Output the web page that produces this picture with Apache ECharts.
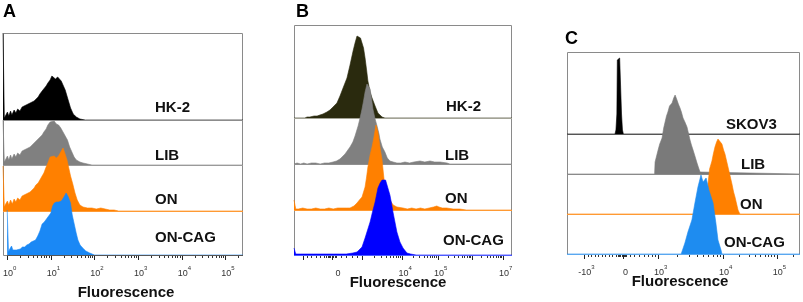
<!DOCTYPE html>
<html>
<head>
<meta charset="utf-8">
<script src="https://cdn.jsdelivr.net/npm/echarts@6.0.0/dist/echarts.min.js"></script>
<style>
html, body { margin: 0; padding: 0; background: #fff; }
#chart { width: 803px; height: 302px; }
</style>
</head>
<body>
<div id="chart"></div>
<script>
// ---- panel A (x in log10 units, y = relative counts) ----
const aHK2 = [[0,87],[0.025,87],[0.03,2],[0.06,4],[0.1,8],[0.13,4],[0.17,9],[0.2,5],[0.25,10],[0.29,7],[0.33,11],[0.38,9],[0.43,13],[0.47,11],[0.52,15],[0.56,13],[0.61,17],[0.65,16],[0.7,19],[0.74,20],[0.79,23],[0.83,26],[0.88,29],[0.92,31],[0.97,34],[1.01,37],[1.06,40],[1.1,44],[1.14,43],[1.18,41],[1.23,43],[1.27,41],[1.31,39],[1.35,37],[1.4,30],[1.46,21],[1.52,12],[1.58,6],[1.65,3],[1.73,1],[1.85,0],[5.4,0]];
const aLIB = [[0,45],[0.025,45],[0.03,3],[0.06,5],[0.1,9],[0.13,5],[0.17,10],[0.2,6],[0.25,11],[0.29,8],[0.33,12],[0.38,10],[0.43,14],[0.47,12],[0.52,16],[0.56,15],[0.61,18],[0.65,20],[0.7,22],[0.74,24],[0.79,26],[0.83,28],[0.88,30],[0.92,33],[0.97,36],[1.01,40],[1.06,43],[1.1,45],[1.15,44],[1.2,41],[1.25,40],[1.3,37],[1.35,33],[1.4,29],[1.45,25],[1.5,18],[1.55,13],[1.6,8],[1.65,5],[1.73,3],[1.8,2],[1.9,1],[2.0,0],[5.4,0]];
const aON = [[0,45],[0.025,45],[0.03,4],[0.06,7],[0.1,10],[0.13,6],[0.17,11],[0.21,7],[0.25,12],[0.29,9],[0.33,13],[0.38,11],[0.43,15],[0.47,14],[0.52,17],[0.56,16],[0.61,19],[0.65,21],[0.7,23],[0.74,26],[0.79,28],[0.83,31],[0.88,35],[0.92,38],[0.97,44],[1.01,48],[1.06,54],[1.1,56],[1.15,55],[1.2,53],[1.25,55],[1.3,59],[1.35,63],[1.39,58],[1.44,51],[1.48,43],[1.52,35],[1.57,27],[1.62,18],[1.67,11],[1.73,6],[1.8,4],[1.9,3],[2.0,3],[2.1,2],[2.2,3],[2.3,2],[2.4,1],[2.5,1],[2.6,0],[5.4,0]];
const aONCAG = [[0,45],[0.025,45],[0.03,3],[0.06,6],[0.1,9],[0.13,5],[0.17,7],[0.21,5],[0.25,7],[0.3,6],[0.35,8],[0.4,8],[0.45,10],[0.5,11],[0.55,13],[0.6,14],[0.65,15],[0.7,19],[0.75,24],[0.8,31],[0.85,33],[0.9,36],[0.95,39],[1.0,42],[1.04,49],[1.08,52],[1.13,53],[1.18,53],[1.24,54],[1.3,58],[1.35,62],[1.4,58],[1.45,52],[1.49,40],[1.53,32],[1.58,22],[1.62,15],[1.67,10],[1.73,7],[1.8,4],[1.89,2],[2.0,0],[5.4,0]];
const aTicks = [0, 1, 2, 3, 4, 5];
const aTickLabels = ['10^0', '10^1', '10^2', '10^3', '10^4', '10^5'];

// ---- panel B (x in display channels 0-1000) ----
const bHK2 = [[0,0],[50,0],[60,1],[73,1],[92,2],[106,2],[119,3],[133,4],[151,6],[165,8],[179,11],[197,15],[211,22],[225,30],[234,35],[243,40],[257,53],[271,67],[280,75],[289,82],[298,83],[305,80],[312,78],[319,70],[326,60],[333,48],[339,37],[349,26],[358,20],[372,12],[385,5],[394,3],[404,1],[417,0],[1000,0]];
const bLIB = [[0,0],[14,1],[30,0],[45,1],[60,0],[80,1],[100,1],[120,0],[140,1],[160,1],[179,2],[195,3],[211,5],[234,10],[257,17],[270,22],[280,28],[294,38],[303,46],[312,55],[319,63],[326,72],[335,80],[342,78],[349,75],[356,65],[362,55],[372,45],[381,38],[390,30],[394,25],[405,17],[417,12],[428,6],[440,3],[455,2],[472,1],[490,1],[509,2],[530,1],[550,2],[578,3],[600,2],[624,3],[645,2],[670,2],[702,1],[715,0],[1000,0]];
const bON = [[0,10],[4,10],[8,1],[20,1],[40,2],[60,1],[80,1],[100,2],[120,1],[140,1],[160,2],[180,1],[200,2],[220,2],[240,2],[257,2],[275,4],[289,7],[300,10],[312,13],[326,23],[333,33],[339,43],[349,55],[358,63],[367,73],[376,85],[380,82],[385,78],[395,62],[404,50],[410,37],[417,23],[428,15],[440,10],[455,5],[472,3],[500,2],[520,1],[540,2],[560,1],[580,2],[600,1],[620,2],[640,3],[655,4],[665,3],[680,2],[700,2],[730,1],[760,1],[790,0],[1000,0]];
const bONCAG = [[0,7],[4,7],[8,1],[30,1],[60,1],[90,1],[120,1],[150,1],[180,1],[210,1],[240,1],[270,2],[289,3],[312,8],[326,17],[349,33],[360,43],[372,53],[385,67],[395,72],[404,75],[413,77],[420,75],[427,73],[440,60],[447,52],[454,43],[463,33],[472,23],[486,13],[500,7],[518,2],[535,1],[560,0],[1000,0]];
const bTicks = [41, 176, 312, 498, 661, 817, 959];
const bLabelVals = [190, 498, 661, 959];
const bTickLabels = ['0', '10^4', '10^5', '10^7'];

// ---- panel C (x in display channels 0-1000) ----
const cSKOV3 = [[0,0],[206,0],[210,4],[214,20],[216,74],[219,76],[226,76],[230,74],[234,20],[238,4],[242,0],[1000,0]];
const cLIB = [[0,0],[376,0],[378,12],[391,24],[398,30],[408,36],[415,46],[421,52],[427,58],[433,62],[440,68],[451,71],[458,76],[464,79],[468,77],[472,74],[478,70],[485,66],[491,62],[498,56],[506,52],[515,47],[522,40],[528,34],[534,29],[541,24],[549,18],[558,11],[565,6],[571,2],[576,0],[1000,0]];
const cON = [[0,0],[598,0],[601,4],[605,30],[612,45],[622,53],[628,60],[635,67],[642,72],[648,75],[656,73],[665,70],[672,64],[678,60],[685,53],[691,47],[700,38],[708,30],[715,22],[721,17],[727,11],[734,4],[742,0],[1000,0]];
const cONCAG = [[0,0],[490,0],[494,2],[506,11],[519,22],[536,34],[549,51],[562,67],[575,79],[584,72],[590,74],[597,76],[609,64],[627,51],[639,31],[648,14],[661,4],[665,0],[1000,0]];
const cTicks = [73, 240, 391, 670, 901];
const cTickLabels = ['-10^3', '0', '10^3', '10^4', '10^5'];

const FONT = 'Liberation Sans, Arial, sans-serif';

// minor tick helpers
function logMinors(start, width, limit) {
    const out = [];
    for (let k = 2; k <= 9; k++) {
        const v = start + Math.log10(k) * width;
        if (v <= limit) out.push(v);
    }
    return out;
}
let aMinor = [];
aTicks.forEach(d => { aMinor = aMinor.concat(logMinors(d, 1, 5.4)); });
const bMinor = [60, 80, 100, 120, 140, 150, 156, 162, 168, 182, 188, 196, 215, 240, 265, 290]
    .concat(logMinors(312, 186, 1000), logMinors(498, 163, 1000), logMinors(661, 156, 1000), logMinors(817, 142, 1000));
const cMinor = [90, 105, 120, 135, 150, 165, 180, 195, 210, 220, 225, 230, 235, 245, 250, 255, 270, 290, 310, 330, 350, 365, 378]
    .concat(logMinors(391, 279, 1000), logMinors(670, 231, 1000), logMinors(901, 231, 1000));

function richLabel(s) {
    const parts = s.split('^');
    return parts.length > 1 ? '{b|' + parts[0] + '}{e|' + parts[1] + '}' : '{b|' + s + '}';
}

const panels = [
    {
        left: 3, right: 243, xMin: 0, xMax: 5.4,
        strips: [[33, 120], [120, 165], [165, 211], [211, 255]],
        series: [
            { name: 'HK-2', data: aHK2, color: '#000000', line: '#8c8c8c' },
            { name: 'LIB', data: aLIB, color: '#808080', line: '#9a9a9a' },
            { name: 'ON', data: aON, color: '#ff8000', line: '#ff9a33' },
            { name: 'ON-CAG', data: aONCAG, color: '#1a88f5', line: '#555555' }
        ],
        ticks: aTicks, minor: aMinor, labelVals: aTicks, labels: aTickLabels,
        letter: ['A', 3, 12], title: [126, 293],
        names: [[155, 108], [155, 156], [155, 200], [155, 238]]
    },
    {
        left: 294, right: 512, xMin: 0, xMax: 1000,
        strips: [[25, 118], [118, 164], [164, 210], [210, 255]],
        series: [
            { name: 'HK-2', data: bHK2, color: '#2a2a0e', line: '#a3a396' },
            { name: 'LIB', data: bLIB, color: '#808080', line: '#8f8f8f' },
            { name: 'ON', data: bON, color: '#ff8000', line: '#ff9a33' },
            { name: 'ON-CAG', data: bONCAG, color: '#0000ff', line: '#4d5cff' }
        ],
        ticks: bTicks, minor: bMinor, labelVals: bLabelVals, labels: bTickLabels,
        letter: ['B', 296, 12], title: [398, 283],
        names: [[446, 107], [445, 156], [445, 199], [443, 241]]
    },
    {
        left: 567, right: 800, xMin: 0, xMax: 1000,
        strips: [[52, 134], [134, 174], [174, 214], [214, 254]],
        series: [
            { name: 'SKOV3', data: cSKOV3, color: '#000000', line: '#555555' },
            { name: 'LIB', data: cLIB, color: '#7a7a7a', line: '#8a8a8a' },
            { name: 'ON', data: cON, color: '#ff8000', line: '#ff9a33' },
            { name: 'ON-CAG', data: cONCAG, color: '#1e8cf0', line: '#5aa8f0' }
        ],
        ticks: cTicks, minor: cMinor, labelVals: cTicks, labels: cTickLabels,
        letter: ['C', 565, 39], title: [680, 282],
        names: [[726, 125], [741, 165], [740, 205], [724, 243]]
    }
];

const grids = [], xAxes = [], yAxes = [], series = [], graphics = [];

panels.forEach(p => {
    p.strips.forEach((s, i) => {
        const top = s[0], base = s[1];
        const gi = grids.length;
        const last = i === p.strips.length - 1;
        grids.push({ left: p.left, top: top, width: p.right - p.left, height: base - top });
        const xi = xAxes.length;
        xAxes.push({
            type: 'value', gridIndex: gi, min: p.xMin, max: p.xMax, position: 'bottom',
            show: last,
            axisLine: { show: false },
            splitLine: { show: false },
            axisTick: { show: true, customValues: p.ticks, length: 5, lineStyle: { color: '#222', width: 1 } },
            axisLabel: {
                show: true, customValues: p.labelVals, margin: 10, padding: [0, 0, 0, 5],
                formatter: v => richLabel(p.labels[p.labelVals.indexOf(v)]),
                rich: {
                    b: { fontSize: 9, lineHeight: 13, verticalAlign: 'bottom', color: '#333', fontFamily: FONT },
                    e: { fontSize: 6, lineHeight: 7, verticalAlign: 'top', color: '#333', fontFamily: FONT }
                }
            }
        });
        if (last) {
            xAxes.push({
                type: 'value', gridIndex: gi, min: p.xMin, max: p.xMax, position: 'bottom',
                axisLine: { show: false }, splitLine: { show: false }, axisLabel: { show: false },
                axisTick: { show: true, customValues: p.minor, length: 3, lineStyle: { color: '#333', width: 1 } }
            });
        }
        const yi = yAxes.length;
        yAxes.push({ type: 'value', gridIndex: gi, min: 0, max: base - top, show: false });
        const sd = p.series[i];
        // histogram outline in its own colour, strip baseline as a separate thin line
        series.push({
            type: 'line', name: sd.name, xAxisIndex: xi, yAxisIndex: yi,
            data: sd.data, showSymbol: false, clip: false, silent: true, z: 3 + i * 2,
            lineStyle: { color: sd.color, width: 0.6 },
            areaStyle: { color: sd.color, opacity: 1 },
            markLine: {
                silent: true, symbol: 'none', z: 4 + i * 2,
                label: { show: false },
                lineStyle: { color: sd.line, width: 1, type: 'solid' },
                data: [{ yAxis: 0 }]
            }
        });
        graphics.push({
            type: 'text', z: 100,
            style: { text: sd.name, x: p.names[i][0], y: p.names[i][1], fill: '#111', font: 'bold 15px ' + FONT, verticalAlign: 'middle' }
        });
    });
    const top = p.strips[0][0], bottom = p.strips[p.strips.length - 1][1];
    graphics.push({
        type: 'rect', z: 1,
        shape: { x: p.left + 0.5, y: top + 0.5, width: p.right - p.left - 1, height: bottom - top },
        style: { fill: 'none', stroke: '#8a8a8a', lineWidth: 1 }
    });
    graphics.push({
        type: 'text', z: 100,
        style: { text: p.letter[0], x: p.letter[1], y: p.letter[2], fill: '#000', font: 'bold 18px ' + FONT, verticalAlign: 'middle' }
    });
    graphics.push({
        type: 'text', z: 100,
        style: { text: 'Fluorescence', x: p.title[0], y: p.title[1], fill: '#111', font: 'bold 15px ' + FONT, align: 'center', verticalAlign: 'middle' }
    });
});

const chart = echarts.init(document.getElementById('chart'), null, { renderer: 'canvas' });
chart.setOption({
    animation: false,
    backgroundColor: '#fff',
    grid: grids,
    xAxis: xAxes,
    yAxis: yAxes,
    series: series,
    graphic: graphics
});
</script>
</body>
</html>
